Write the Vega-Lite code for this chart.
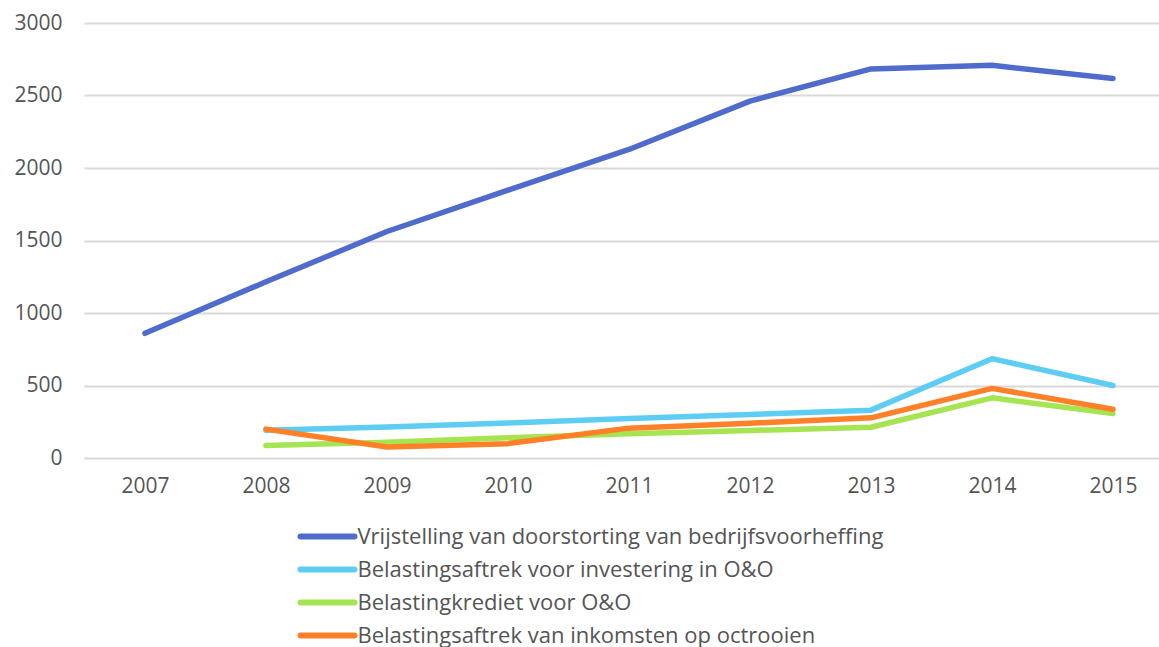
{
  "$schema": "https://vega.github.io/schema/vega-lite/v6.json",
  "width": 1075,
  "height": 435,
  "autosize": {"type": "none"},
  "padding": {"left": 84, "top": 23, "right": 0, "bottom": 189},
  "background": "white",
  "config": {
    "view": {"stroke": null},
    "font": "Open Sans",
    "axis": {"labelFont": "Open Sans", "labelColor": "#555555", "labelFontSize": 21},
    "legend": {"labelFont": "Open Sans"}
  },
  "data": {
    "values": [
      {"jaar": "2007", "reeks": "Vrijstelling van doorstorting van bedrijfsvoorheffing", "waarde": 860},
      {"jaar": "2008", "reeks": "Vrijstelling van doorstorting van bedrijfsvoorheffing", "waarde": 1215},
      {"jaar": "2009", "reeks": "Vrijstelling van doorstorting van bedrijfsvoorheffing", "waarde": 1562},
      {"jaar": "2010", "reeks": "Vrijstelling van doorstorting van bedrijfsvoorheffing", "waarde": 1848},
      {"jaar": "2011", "reeks": "Vrijstelling van doorstorting van bedrijfsvoorheffing", "waarde": 2128},
      {"jaar": "2012", "reeks": "Vrijstelling van doorstorting van bedrijfsvoorheffing", "waarde": 2461},
      {"jaar": "2013", "reeks": "Vrijstelling van doorstorting van bedrijfsvoorheffing", "waarde": 2683},
      {"jaar": "2014", "reeks": "Vrijstelling van doorstorting van bedrijfsvoorheffing", "waarde": 2708},
      {"jaar": "2015", "reeks": "Vrijstelling van doorstorting van bedrijfsvoorheffing", "waarde": 2617},
      {"jaar": "2008", "reeks": "Belastingsaftrek voor investering in O&O", "waarde": 192},
      {"jaar": "2009", "reeks": "Belastingsaftrek voor investering in O&O", "waarde": 214},
      {"jaar": "2010", "reeks": "Belastingsaftrek voor investering in O&O", "waarde": 242},
      {"jaar": "2011", "reeks": "Belastingsaftrek voor investering in O&O", "waarde": 272},
      {"jaar": "2012", "reeks": "Belastingsaftrek voor investering in O&O", "waarde": 300},
      {"jaar": "2013", "reeks": "Belastingsaftrek voor investering in O&O", "waarde": 330},
      {"jaar": "2014", "reeks": "Belastingsaftrek voor investering in O&O", "waarde": 685},
      {"jaar": "2015", "reeks": "Belastingsaftrek voor investering in O&O", "waarde": 500},
      {"jaar": "2008", "reeks": "Belastingkrediet voor O&O", "waarde": 86},
      {"jaar": "2009", "reeks": "Belastingkrediet voor O&O", "waarde": 108},
      {"jaar": "2010", "reeks": "Belastingkrediet voor O&O", "waarde": 140},
      {"jaar": "2011", "reeks": "Belastingkrediet voor O&O", "waarde": 168},
      {"jaar": "2012", "reeks": "Belastingkrediet voor O&O", "waarde": 190},
      {"jaar": "2013", "reeks": "Belastingkrediet voor O&O", "waarde": 212},
      {"jaar": "2014", "reeks": "Belastingkrediet voor O&O", "waarde": 415},
      {"jaar": "2015", "reeks": "Belastingkrediet voor O&O", "waarde": 307},
      {"jaar": "2008", "reeks": "Belastingsaftrek van inkomsten op octrooien", "waarde": 199},
      {"jaar": "2009", "reeks": "Belastingsaftrek van inkomsten op octrooien", "waarde": 76},
      {"jaar": "2010", "reeks": "Belastingsaftrek van inkomsten op octrooien", "waarde": 99},
      {"jaar": "2011", "reeks": "Belastingsaftrek van inkomsten op octrooien", "waarde": 206},
      {"jaar": "2012", "reeks": "Belastingsaftrek van inkomsten op octrooien", "waarde": 240},
      {"jaar": "2013", "reeks": "Belastingsaftrek van inkomsten op octrooien", "waarde": 277},
      {"jaar": "2014", "reeks": "Belastingsaftrek van inkomsten op octrooien", "waarde": 480},
      {"jaar": "2015", "reeks": "Belastingsaftrek van inkomsten op octrooien", "waarde": 336}
    ]
  },
  "mark": {"type": "line", "strokeWidth": 5.5, "strokeCap": "round", "strokeJoin": "round"},
  "encoding": {
    "x": {
      "field": "jaar",
      "type": "ordinal",
      "scale": {"type": "point", "padding": 0.442, "align": 0.57},
      "axis": {"title": null, "domain": false, "ticks": false, "labelPadding": 17, "labelAngle": 0}
    },
    "y": {
      "field": "waarde",
      "type": "quantitative",
      "scale": {"domain": [0, 3000], "nice": false},
      "axis": {
        "title": null,
        "domain": false,
        "ticks": false,
        "format": "d",
        "values": [0, 500, 1000, 1500, 2000, 2500, 3000],
        "labelPadding": 22,
        "gridColor": "#d9d9d9",
        "gridWidth": 2
      }
    },
    "color": {
      "field": "reeks",
      "type": "nominal",
      "sort": null,
      "scale": {
        "domain": [
          "Vrijstelling van doorstorting van bedrijfsvoorheffing",
          "Belastingsaftrek voor investering in O&O",
          "Belastingkrediet voor O&O",
          "Belastingsaftrek van inkomsten op octrooien"
        ],
        "range": ["#4f6bcc", "#5ecdf4", "#a6e551", "#ff8026"]
      },
      "legend": {
        "title": null,
        "orient": "none",
        "legendX": 213.5,
        "legendY": 497,
        "padding": 0,
        "symbolType": "M-1,0H3",
        "symbolSize": 729,
        "symbolStrokeWidth": 6,
        "labelOffset": 27,
        "labelFontSize": 22,
        "labelColor": "#555555",
        "labelLimit": 800,
        "rowPadding": 4,
        "encode": {"symbols": {"update": {"strokeCap": {"value": "round"}}}}
      }
    }
  }
}
